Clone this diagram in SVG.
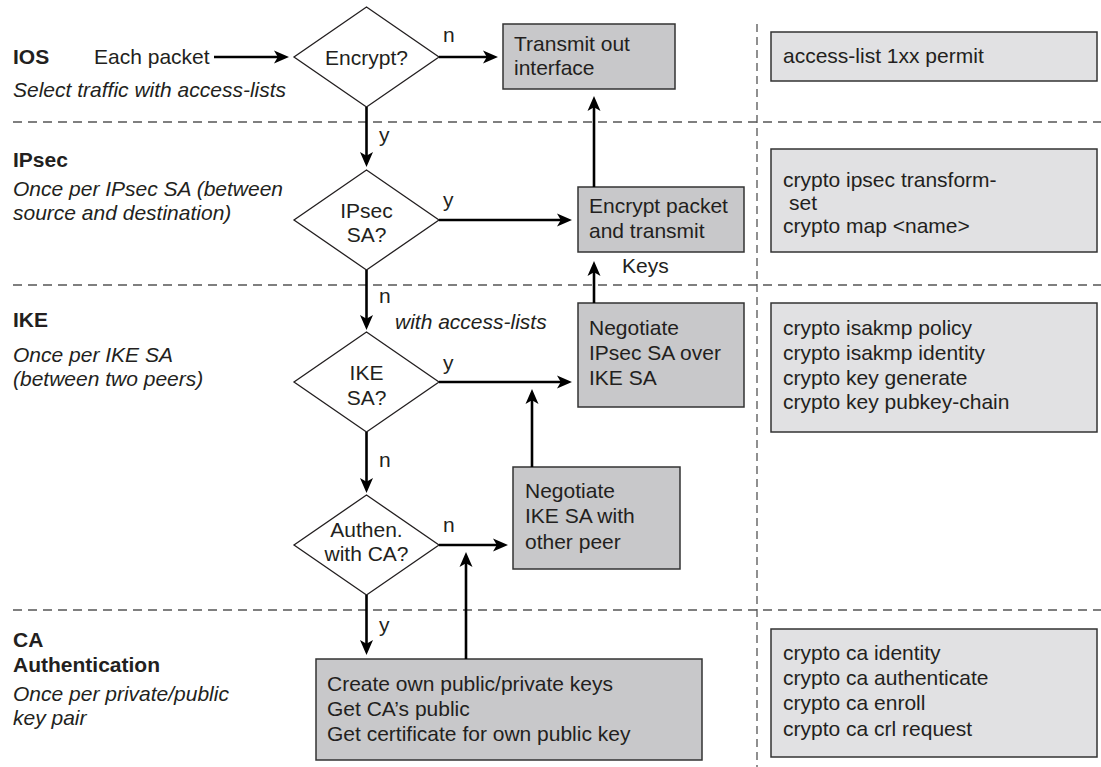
<svg xmlns="http://www.w3.org/2000/svg" width="1101" height="767" viewBox="0 0 1101 767">
  <style>
    text { font-family: "Liberation Sans", Arial, sans-serif; font-size: 21px; fill: #231f20; }
    .b { font-weight: bold; }
    .i { font-style: italic; }
    .mid { text-anchor: middle; }
    .box { fill: #c8c8ca; stroke: #333; stroke-width: 1.5; }
    .cmd { fill: #e1e1e3; stroke: #333; stroke-width: 1.5; }
    .dia { fill: #fff; stroke: #231f20; stroke-width: 1.3; }
    .sep { stroke: #555; stroke-width: 1.3; stroke-dasharray: 9 6; fill: none; }
    .vsep { stroke: #555; stroke-width: 1.3; stroke-dasharray: 8 5; fill: none; }
    .arr { stroke: #000; stroke-width: 2.6; fill: none; marker-end: url(#head); }
  </style>
  <defs>
    <marker id="head" markerUnits="userSpaceOnUse" markerWidth="17" markerHeight="14" refX="4" refY="7" orient="auto">
      <path d="M0,0.5 L15,7 L0,13.5 L3.8,7 Z" fill="#000"/>
    </marker>
  </defs>

  <rect width="1101" height="767" fill="#fff"/>

  <!-- layer separators -->
  <g id="separators">
    <line class="sep" x1="13" y1="122" x2="1101" y2="122"/>
    <line class="sep" x1="13" y1="285" x2="1101" y2="285"/>
    <line class="sep" x1="13" y1="610" x2="1101" y2="610"/>
    <line class="vsep" x1="757" y1="24" x2="757" y2="767"/>
  </g>

  <!-- layer labels -->
  <g id="labels">
    <text class="b" x="13" y="64">IOS</text>
    <text x="94" y="64">Each packet</text>
    <text class="i" x="13" y="97">Select traffic with access-lists</text>
    <text class="b" x="13" y="167">IPsec</text>
    <text class="i" x="13" y="196">Once per IPsec SA (between</text>
    <text class="i" x="13" y="220">source and destination)</text>
    <text class="b" x="13" y="327">IKE</text>
    <text class="i" x="13" y="362">Once per IKE SA</text>
    <text class="i" x="13" y="386">(between two peers)</text>
    <text class="b" x="13" y="647">CA</text>
    <text class="b" x="13" y="672">Authentication</text>
    <text class="i" x="13" y="701">Once per private/public</text>
    <text class="i" x="13" y="725">key pair</text>
  </g>

  <!-- decisions -->
  <g id="encrypt">
    <polygon class="dia" points="366.5,7 439,57 366.5,107 294,57"/>
    <text class="mid" x="366.5" y="65">Encrypt?</text>
  </g>
  <g id="ipsec-sa">
    <polygon class="dia" points="366.5,170 439,220 366.5,270 294,220"/>
    <text class="mid" x="366.5" y="218">IPsec</text>
    <text class="mid" x="366.5" y="242">SA?</text>
  </g>
  <g id="ike-sa">
    <polygon class="dia" points="366.5,332 439,382 366.5,432 294,382"/>
    <text class="mid" x="366.5" y="380">IKE</text>
    <text class="mid" x="366.5" y="405">SA?</text>
  </g>
  <g id="authen">
    <polygon class="dia" points="366.5,495 439,545 366.5,595 294,545"/>
    <text class="mid" x="366.5" y="537">Authen.</text>
    <text class="mid" x="366.5" y="561">with CA?</text>
  </g>

  <!-- actions -->
  <g id="transmit">
    <rect class="box" x="503" y="24" width="172" height="65"/>
    <text x="514" y="51">Transmit out</text>
    <text x="514" y="75">interface</text>
  </g>
  <g id="encrypt-packet">
    <rect class="box" x="578" y="187" width="166" height="65"/>
    <text x="589" y="213">Encrypt packet</text>
    <text x="589" y="238">and transmit</text>
  </g>
  <g id="negotiate-ipsec">
    <rect class="box" x="578" y="303" width="166" height="104"/>
    <text x="589" y="335">Negotiate</text>
    <text x="589" y="360">IPsec SA over</text>
    <text x="589" y="385">IKE SA</text>
  </g>
  <g id="negotiate-ike">
    <rect class="box" x="513" y="467" width="167" height="102"/>
    <text x="525" y="498">Negotiate</text>
    <text x="525" y="523">IKE SA with</text>
    <text x="525" y="549">other peer</text>
  </g>
  <g id="ca-keys">
    <rect class="box" x="316" y="659" width="386" height="101"/>
    <text x="327" y="691">Create own public/private keys</text>
    <text x="327" y="716">Get CA’s public</text>
    <text x="327" y="741">Get certificate for own public key</text>
  </g>

  <!-- configuration commands -->
  <g id="cmd-ios">
    <rect class="cmd" x="771" y="32" width="326" height="49"/>
    <text x="783" y="63">access-list 1xx permit</text>
  </g>
  <g id="cmd-ipsec">
    <rect class="cmd" x="771" y="149" width="326" height="103"/>
    <text x="783" y="187">crypto ipsec transform-</text>
    <text x="789" y="210">set</text>
    <text x="783" y="233">crypto map &lt;name&gt;</text>
  </g>
  <g id="cmd-ike">
    <rect class="cmd" x="771" y="303" width="326" height="129"/>
    <text x="783" y="335">crypto isakmp policy</text>
    <text x="783" y="360">crypto isakmp identity</text>
    <text x="783" y="385">crypto key generate</text>
    <text x="783" y="409">crypto key pubkey-chain</text>
  </g>
  <g id="cmd-ca">
    <rect class="cmd" x="771" y="629" width="326" height="128"/>
    <text x="783" y="660">crypto ca identity</text>
    <text x="783" y="685">crypto ca authenticate</text>
    <text x="783" y="710">crypto ca enroll</text>
    <text x="783" y="736">crypto ca crl request</text>
  </g>

  <!-- connectors -->
  <g id="connectors">
    <path class="arr" d="M214,57 H278"/>
    <path class="arr" d="M439,57 H487"/>
    <path class="arr" d="M366.5,107 V156"/>
    <path class="arr" d="M439,220 H561"/>
    <path class="arr" d="M594,187 V107"/>
    <path class="arr" d="M366.5,270 V319"/>
    <path class="arr" d="M594,303 V272"/>
    <path class="arr" d="M439,382 H561"/>
    <path class="arr" d="M532,467 V400"/>
    <path class="arr" d="M366.5,432 V482"/>
    <path class="arr" d="M439,545 H497"/>
    <path class="arr" d="M466,659 V563"/>
    <path class="arr" d="M366.5,595 V644"/>
  </g>

  <!-- connector labels -->
  <g id="connector-labels">
    <text x="443" y="42">n</text>
    <text x="379" y="142">y</text>
    <text x="443" y="207">y</text>
    <text x="622" y="273">Keys</text>
    <text x="379" y="303">n</text>
    <text class="i" x="395" y="329">with access-lists</text>
    <text x="443" y="370">y</text>
    <text x="379" y="467">n</text>
    <text x="443" y="532">n</text>
    <text x="379" y="632">y</text>
  </g>
</svg>
